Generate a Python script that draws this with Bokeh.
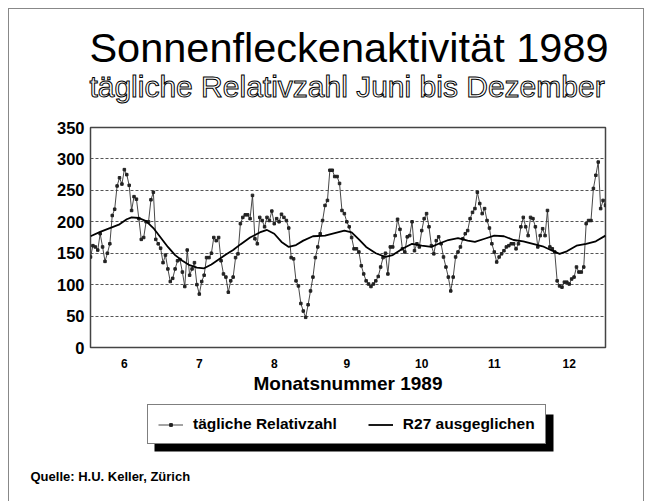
from bokeh.plotting import figure
from bokeh.models import Range1d, FixedTicker, Label, Legend, LegendItem, BoxAnnotation, Spacer
from bokeh.layouts import column, row
from bokeh.embed import file_html
from bokeh.resources import INLINE

# ---- data ----
month_numbers = [6, 7, 8, 9, 10, 11, 12]
month_lengths = [30, 31, 31, 30, 31, 30, 31]
y_ticks = [0, 50, 100, 150, 200, 250, 300, 350]

# daily relative sunspot number, 1 June .. 31 December 1989
daily = [
    144, 162, 160, 155, 181, 160, 137, 150, 165, 210,
    220, 257, 270, 260, 283, 275, 258, 218, 240, 236,
    205, 172, 175, 200, 200, 235, 247, 172, 165, 158,
    135, 147, 125, 105, 110, 125, 138, 140, 120, 97,
    155, 115, 125, 135, 100, 85, 105, 115, 143, 143,
    150, 175, 170, 175, 138, 117, 112, 88, 106, 112,
    143, 149, 197, 207, 211, 211, 205, 242, 173, 165,
    207, 202, 192, 207, 202, 217, 197, 205, 200, 212,
    207, 202, 190, 143, 141, 106, 98, 70, 58, 48,
    68, 90, 112, 143, 160, 181, 202, 226, 234, 282,
    282, 272, 272, 261, 218, 213, 200, 192, 175, 157,
    157, 152, 130, 117, 106, 101, 97, 101, 106, 113,
    128, 143, 150, 117, 160, 160, 178, 204, 188, 157,
    152, 176, 178, 200, 154, 165, 160, 186, 205, 213,
    192, 162, 149, 170, 176, 165, 144, 128, 112, 90,
    112, 144, 152, 160, 173, 181, 186, 205, 215, 221,
    247, 229, 213, 221, 202, 190, 165, 152, 136, 144,
    149, 154, 160, 162, 165, 165, 157, 165, 192, 207,
    192, 178, 207, 205, 192, 160, 178, 189, 178, 218,
    160, 157, 152, 106, 98, 96, 104, 104, 101, 109,
    112, 128, 120, 120, 128, 197, 202, 202, 253, 274,
    295, 221, 234, 226,
]

# R27 smoothed curve (day index, value)
r27_day = [0, 4, 8, 12, 15, 17, 20, 23, 26, 29, 32, 35, 38, 41, 44, 47, 50,
           53, 56, 59, 62, 66, 70, 73, 76, 79, 82, 85, 88, 92, 97, 101, 105,
           108, 111, 114, 118, 122, 125, 129, 133, 137, 141, 144, 148, 152,
           156, 159, 163, 167, 171, 175, 179, 183, 187, 191, 194, 197, 201,
           205, 209, 213]
r27_val = [177, 184, 190, 196, 204, 207, 206, 201, 190, 175, 160, 147, 138,
           131, 127, 126, 132, 140, 148, 155, 164, 175, 183, 187, 181, 168,
           160, 163, 170, 177, 178, 182, 186, 183, 172, 160, 150, 144, 147,
           157, 165, 162, 160, 165, 171, 174, 170, 168, 173, 178, 177, 171,
           169, 165, 161, 154, 149, 153, 162, 165, 169, 178]

days = list(range(len(daily)))

# month label positions (middle of each month, in day index)
month_mid = []
start = 0
for ln in month_lengths:
    month_mid.append(start + (ln - 1) // 2)
    start += ln

FONT = "Liberation Sans"
W = 634          # inner width (inside the CSS border)
TOP_H, MAIN_H, BOT_H = 108, 285, 99
FRAME_L, FRAME_W, FRAME_T, FRAME_H = 81, 515, 10, 220


def blank_fig(h):
    f = figure(width=W, height=h, output_backend="svg", toolbar_location=None,
               x_range=Range1d(0, W), y_range=Range1d(h, 0),
               x_axis_type=None, y_axis_type=None, min_border=0,
               frame_align=False)
    f.outline_line_color = None
    f.background_fill_color = "white"
    f.border_fill_color = "white"
    return f


# ---------- title panel ----------
top = blank_fig(TOP_H)
top.add_layout(Label(x=339.5, y=38, text="Sonnenfleckenaktivität 1989",
                     text_align="center", text_baseline="alphabetic",
                     text_font=FONT, text_font_size="41.5px", text_color="black"))
top.add_layout(Label(x=337.5, y=76.5, text="tägliche Relativzahl Juni bis Dezember",
                     text_align="center", text_baseline="alphabetic",
                     text_font=FONT, text_font_size="30px", text_color="white",
                     text_outline_color="black"))

# ---------- main chart ----------
p = figure(width=W, height=MAIN_H, output_backend="svg", toolbar_location=None,
           x_range=Range1d(days[0], days[-1]), y_range=Range1d(y_ticks[0], y_ticks[-1]),
           min_border_left=FRAME_L, min_border_right=W - FRAME_L - FRAME_W,
           min_border_top=FRAME_T, min_border_bottom=MAIN_H - FRAME_T - FRAME_H,
           frame_align=False)
p.background_fill_color = "white"
p.border_fill_color = "white"
p.outline_line_color = "#444"
p.outline_line_width = 1.5

p.xgrid.visible = False
p.ygrid.ticker = FixedTicker(ticks=y_ticks)
p.ygrid.grid_line_color = "#555"
p.ygrid.grid_line_dash = "3 2"
p.ygrid.grid_line_width = 1

p.yaxis.ticker = FixedTicker(ticks=y_ticks)
p.yaxis.axis_line_color = None
p.yaxis.major_tick_line_color = None
p.yaxis.minor_tick_line_color = None
p.yaxis.major_label_text_font = FONT
p.yaxis.major_label_text_font_size = "16.5px"
p.yaxis.major_label_text_font_style = "bold"
p.yaxis.major_label_text_color = "black"
p.yaxis.major_label_standoff = 0

p.xaxis.ticker = FixedTicker(ticks=month_mid)
p.xaxis.major_label_overrides = {m: str(n) for m, n in zip(month_mid, month_numbers)}
p.xaxis.axis_line_color = None
p.xaxis.major_tick_line_color = None
p.xaxis.minor_tick_line_color = None
p.xaxis.major_label_text_font = FONT
p.xaxis.major_label_text_font_size = "12px"
p.xaxis.major_label_text_font_style = "bold"
p.xaxis.major_label_text_color = "black"
p.xaxis.major_label_standoff = 5
p.xaxis.axis_label = "Monatsnummer 1989"
p.xaxis.axis_label_text_font = FONT
p.xaxis.axis_label_text_font_size = "19px"
p.xaxis.axis_label_text_font_style = "bold"
p.xaxis.axis_label_text_color = "black"
p.xaxis.axis_label_standoff = 2

DAILY_STYLE = dict(line_color="#333", line_width=0.9)
PTS_STYLE = dict(marker="square", size=2.5, fill_color="#222", line_color="#222")
SMOOTH_STYLE = dict(line_color="black", line_width=1.8)

p.line(days, daily, **DAILY_STYLE)
p.scatter(days, daily, **PTS_STYLE)
p.line(r27_day, r27_val, **SMOOTH_STYLE)

# ---------- legend + source panel ----------
bot = blank_fig(BOT_H)
bot.add_layout(BoxAnnotation(left=145, right=544, top=12, bottom=49,
                             fill_color="black", fill_alpha=1, line_color=None))
nan = float("nan")
lg_line = bot.line(x=[nan], y=[nan], **DAILY_STYLE)
lg_pts = bot.scatter(x=[nan], y=[nan], **PTS_STYLE)
lg_smooth = bot.line(x=[nan], y=[nan], **SMOOTH_STYLE)
legend = Legend(items=[LegendItem(label="tägliche Relativzahl", renderers=[lg_line, lg_pts]),
                       LegendItem(label="R27 ausgeglichen", renderers=[lg_smooth])],
                location=(138, BOT_H - 42), orientation="horizontal",
                label_text_font=FONT, label_text_font_size="15.5px",
                label_text_font_style="bold", label_text_color="black",
                glyph_width=25, glyph_height=7, label_standoff=10, spacing=31,
                padding=10, margin=0, border_line_color="black", border_line_width=1.5,
                background_fill_color="white", background_fill_alpha=1)
bot.add_layout(legend)
bot.add_layout(Label(x=21, y=74, text="Quelle: H.U. Keller, Zürich",
                     text_align="left", text_baseline="alphabetic",
                     text_font=FONT, text_font_size="13px", text_font_style="bold",
                     text_color="black"))

inner = column(top, p, bot, spacing=0,
               styles={"border": "1px solid #888", "border-bottom": "none"})
page = column(Spacer(height=8), row(Spacer(width=8), inner, spacing=0), spacing=0)

open("out.html", "w").write(file_html(page, INLINE))
